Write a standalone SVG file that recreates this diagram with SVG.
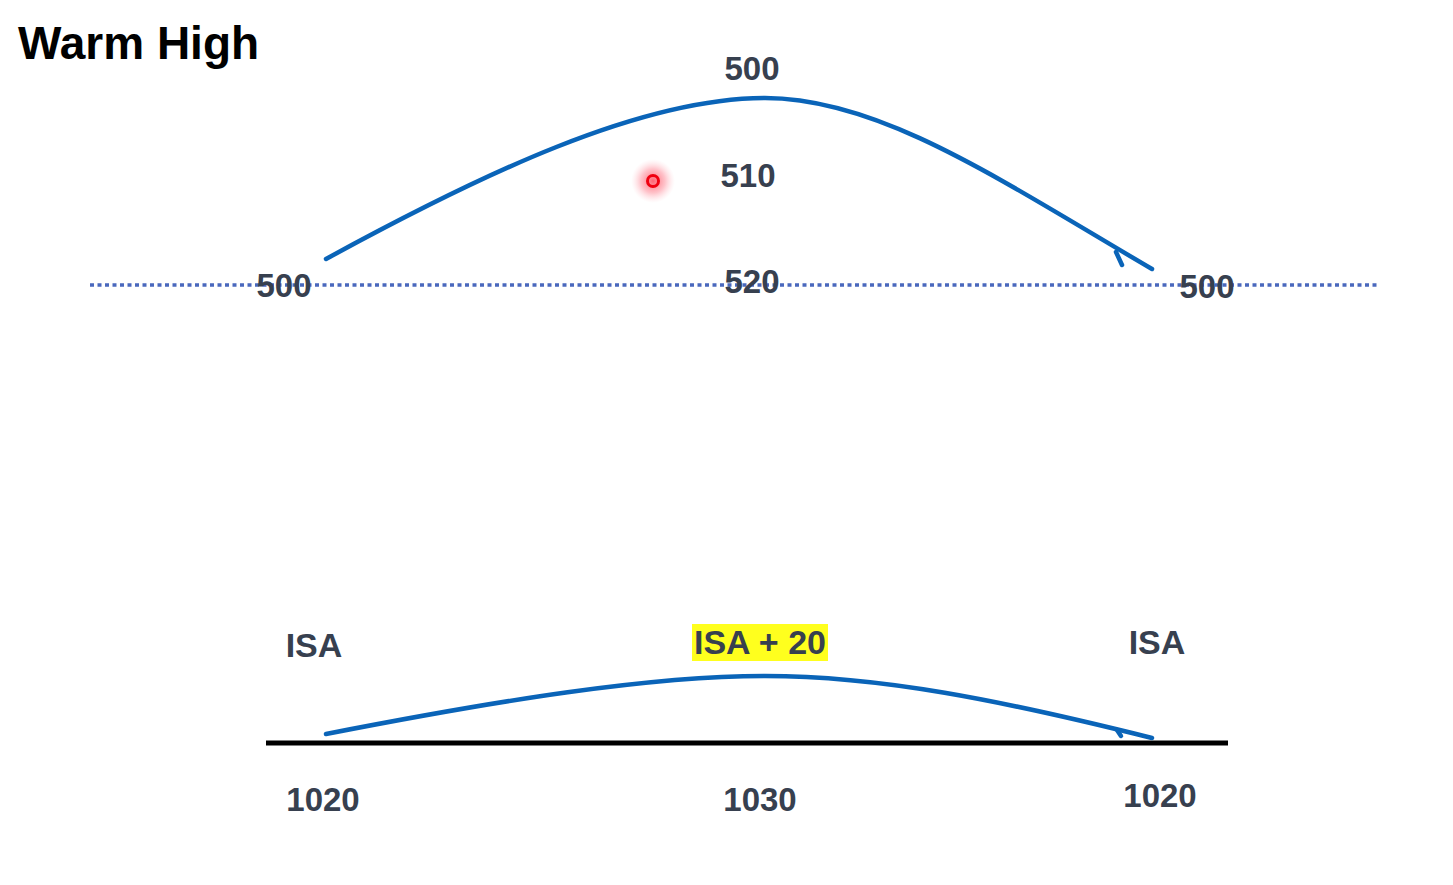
<svg xmlns="http://www.w3.org/2000/svg" width="1453" height="885" viewBox="0 0 1453 885">
<defs>
<style>
.t{font-family:"Liberation Sans",Arial,sans-serif;font-weight:bold;fill:#37404f;font-size:33px;text-anchor:middle}
.c{fill:none;stroke:#0a64b8;stroke-width:4.5;stroke-linecap:round;stroke-linejoin:round}
</style>
<radialGradient id="glow">
<stop offset="0" stop-color="#ff4a5a" stop-opacity="0.85"/>
<stop offset="0.55" stop-color="#ff7a8a" stop-opacity="0.45"/>
<stop offset="1" stop-color="#ffc0c8" stop-opacity="0"/>
</radialGradient>
</defs>
<rect width="1453" height="885" fill="#ffffff"/>
<text x="18" y="59" style="font-family:'Liberation Sans',Arial,sans-serif;font-weight:bold;font-size:46px;fill:#000">Warm High</text>
<g id="connectors">
<line x1="90" y1="285" x2="1380" y2="285" stroke="#4a68bd" stroke-width="3.5" stroke-dasharray="4,3.5"/>
<line x1="266" y1="743" x2="1228" y2="743" stroke="#000" stroke-width="5"/>
<path id="upper-curve" class="c" d="M326,259 C480,175 640,98 765,98 C880,98 1000,180 1152,269"/>
<path class="c" d="M1116,252 L1122,265"/>
<path id="lower-curve" class="c" d="M326,734 C500,700 650,676 765,676 C880,676 1000,700 1152,738"/>
<path class="c" d="M1117,730 L1121,736"/>
</g>
<g id="pointer">
<circle cx="653" cy="181" r="22" fill="url(#glow)"/>
<circle cx="653" cy="181" r="5.5" fill="none" stroke="#f00010" stroke-width="3"/>
</g>
<g id="upper-labels">
<text class="t" x="752" y="80">500</text>
<text class="t" x="748" y="187">510</text>
<text class="t" x="752" y="293">520</text>
<text class="t" x="284" y="297">500</text>
<text class="t" x="1207" y="298">500</text>
</g>
<g id="lower-labels">
<text class="t" x="314" y="657" style="font-size:34px">ISA</text>
<rect x="692" y="624" width="136" height="37" fill="#ffff1e"/>
<text class="t" x="760" y="654" style="font-size:34px">ISA + 20</text>
<text class="t" x="1157" y="654" style="font-size:34px">ISA</text>
<text class="t" x="323" y="811">1020</text>
<text class="t" x="760" y="811">1030</text>
<text class="t" x="1160" y="807">1020</text>
</g>
</svg>
